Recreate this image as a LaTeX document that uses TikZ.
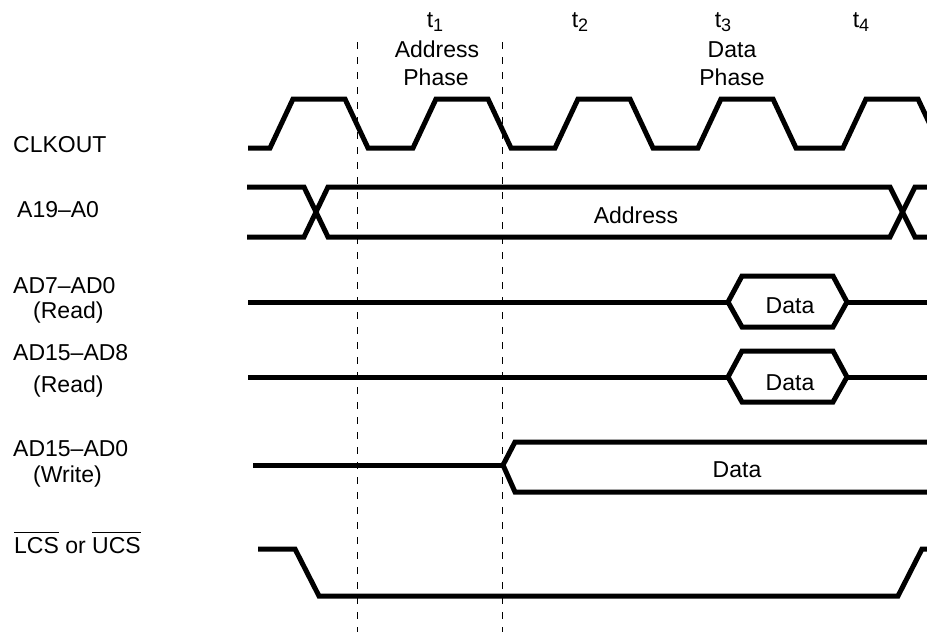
\documentclass[tikz,border=0pt]{standalone}
\usepackage{fontspec}
\setmainfont{Liberation Sans}
\newcommand\sigbar[1]{\leavevmode\vbox{\hrule height 1.6pt\kern 3.5pt\hbox{#1}}}
\newcommand\tsub[1]{t\raisebox{-4pt}{\fontsize{18}{18}\selectfont #1}}

\begin{document}
\begin{tikzpicture}[x=1pt,y=-1pt,
    sig/.style={line width=5pt,line join=miter},
    phase/.style={dash pattern=on 7pt off 8pt,line width=1pt},
    lbl/.style={anchor=base west,inner sep=0pt,font=\fontsize{23}{28}\selectfont},
    hdr/.style={anchor=base,inner sep=0pt,font=\fontsize{23}{28}\selectfont}]
    \useasboundingbox (0,0) rectangle (927,632);
    \clip (0,0) rectangle (927,632);
    % phase boundaries
    \foreach \x in {357,502}
    \draw[phase] (\x,42) -- (\x,632);
    % clock states on top
    \foreach \x/\n in {435/1,580/2,723/3,861/4}
    \node[hdr] (t\n) at (\x,27) {\tsub{\n}};
    \node[hdr] (aph) at (437,57) {Address};
    \node[hdr] (aphb) at (436,85) {Phase};
    \node[hdr] (dph) at (732,57) {Data};
    \node[hdr] (dphb) at (732,85) {Phase};
    % signal names
    \node[lbl] (clk) at (13,152) {CLKOUT};
    \node[lbl] (abus) at (17,217) {A19–A0};
    \node[lbl] (lo) at (13,293) {AD7–AD0};
    \node[lbl] (lor) at (33,318) {(Read)};
    \node[lbl] (hi) at (13,360) {AD15–AD8};
    \node[lbl] (hir) at (33,392) {(Read)};
    \node[lbl] (wr) at (13,456) {AD15–AD0};
    \node[lbl] (wrw) at (33,482) {(Write)};
    \node[lbl] (cs) at (14,553) {\sigbar{LCS} or \sigbar{UCS}};
    % CLKOUT
    \draw[sig] (248,148) \foreach \r in {270,413,555,698,843}
    { -- (\r,148) -- ++(23,-49) -- ++(52,0) -- ++(23,49) } -- (960,148);
    % A19-A0
    \draw[sig] (247,187) -- (304,187) -- (328,237) -- (890,237) -- (915,187) -- (940,187);
    \draw[sig] (247,237) -- (304,237) -- (328,187) -- (890,187) -- (915,237) -- (940,237);
    \node[hdr] (adr) at (636,223) {Address};
    % read data
    \foreach \y/\b/\n in {302/313/lo,377/390/hi} {
        \draw[sig] (248,\y) -- (728,\y);
        \draw[sig] (728,\y) -- (742,\y-26) -- (833,\y-26) -- (847,\y)
        -- (833,\y+25) -- (742,\y+25) -- cycle;
        \draw[sig] (847,\y) -- (940,\y);
        \node[hdr] (d\n) at (790,\b) {Data};
    }
    % write data
    \draw[sig] (253,465) -- (503,465);
    \draw[sig] (940,442) -- (515,442) -- (503,465) -- (515,492) -- (940,492);
    \node[hdr] (dwr) at (737,477) {Data};
    % chip select
    \draw[sig] (258,549) -- (295,549) -- (319,596) -- (898,596) -- (922,549) -- (940,549);
\end{tikzpicture}
\end{document}
